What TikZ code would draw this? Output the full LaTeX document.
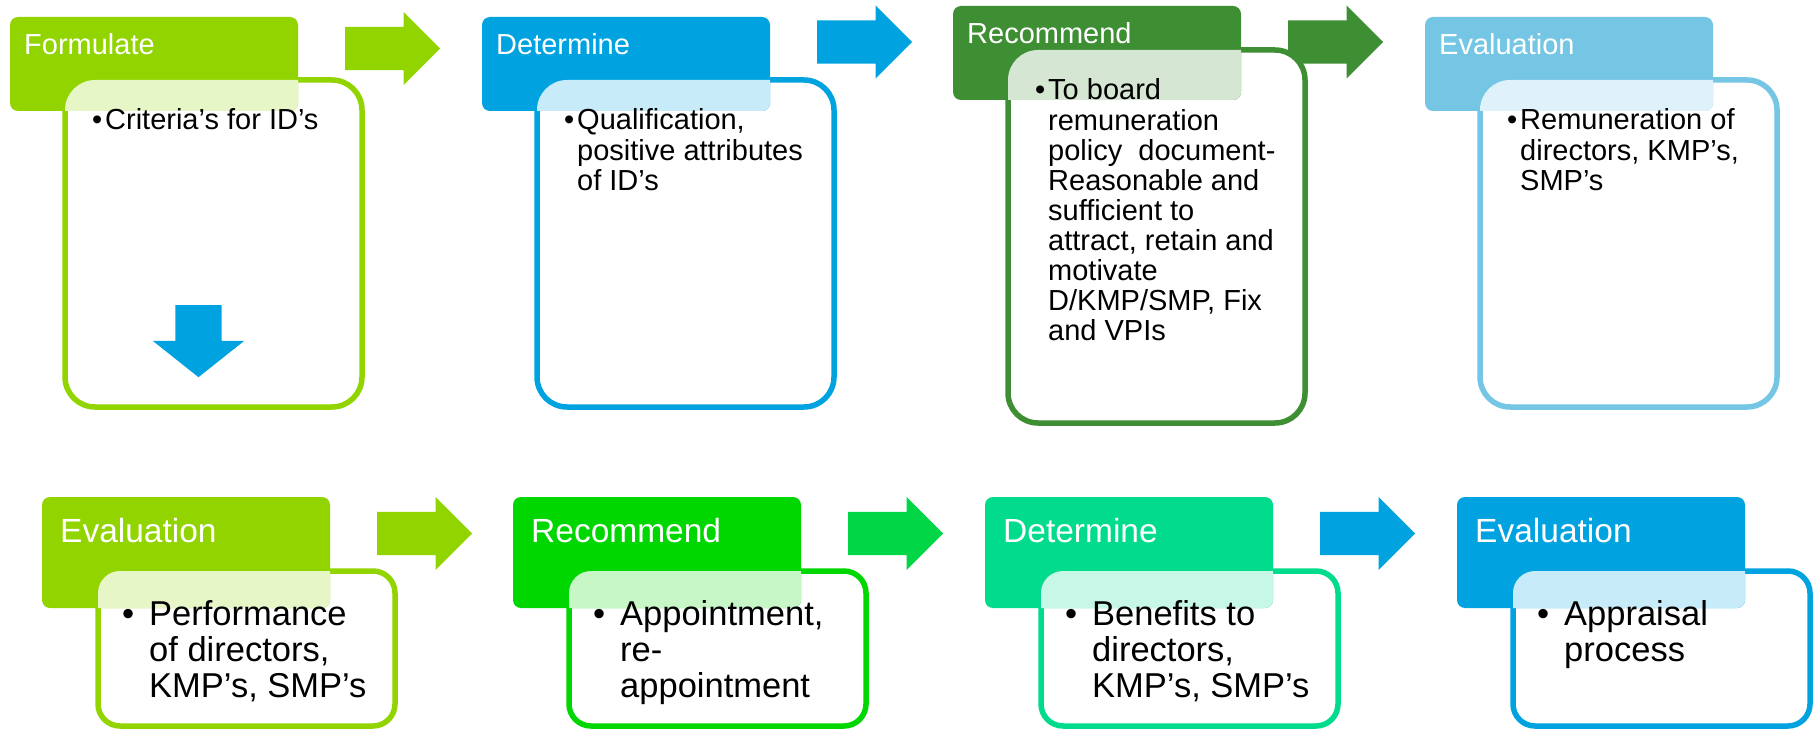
\documentclass[tikz,border=0pt]{standalone}
\usepackage{fontspec}
\setmainfont{Liberation Sans}
\usetikzlibrary{shapes.arrows}

\definecolor{lime}{RGB}{146,212,0}
\definecolor{azure}{RGB}{0,163,224}
\definecolor{forest}{RGB}{62,142,51}
\definecolor{sky}{RGB}{116,198,228}
\definecolor{grass}{RGB}{0,214,0}
\definecolor{spring}{RGB}{0,214,70}
\definecolor{mint}{RGB}{0,219,140}

\newcommand{\toptext}{\fontsize{29}{30}\selectfont}
\newcommand{\lowhead}{\fontsize{33.5}{36}\selectfont}
\newcommand{\lowtext}{\fontsize{34.5}{36}\selectfont}
\newcommand{\itemlines}[2]{\begin{tabular}[t]{@{}l@{}}\llap{\textbullet\hspace{#1}}#2\end{tabular}}

\tikzset{
	headbox/.style={rectangle, rounded corners=8pt, inner sep=0pt, outer sep=0pt, anchor=north west, minimum width=288pt},
	bodybox/.style={rectangle, fill=white, line width=5.5pt, inner sep=0pt, outer sep=0pt, anchor=north west, minimum width=297pt},
	titletext/.style={anchor=base west, inner sep=0pt, text=white},
	itemtext/.style={anchor=base west, inner sep=0pt, text=black},
	flowarrow/.style={single arrow, draw=none, inner sep=0pt, text height=43pt, minimum height=95pt, minimum width=73pt, single arrow head extend=15pt, anchor=tail}
}

\begin{document}
\begin{tikzpicture}[x=1pt, y=-1pt]
	\useasboundingbox (0,0) rectangle (1815,730);
	% arrows between the stages
	\node[flowarrow, fill=lime] (a1) at (345,48.5) {};
	\node[flowarrow, fill=azure] (a2) at (817,42) {};
	\node[flowarrow, fill=forest] (a3) at (1288,42) {};
	\node[flowarrow, fill=lime] (a4) at (377,533.5) {};
	\node[flowarrow, fill=spring] (a5) at (848,533.5) {};
	\node[flowarrow, fill=azure] (a6) at (1320,533.5) {};
	% top row
	\foreach \n/\col/\hx/\hy/\by/\bb/\head/\txt in {
		fo/lime/10/17/80/407/Formulate/{Criteria’s for ID’s},
		de/azure/482/17/80/407/Determine/{Qualification,\\positive attributes\\of ID’s},
		re/forest/953/6/50/423/Recommend/{To board\\remuneration\\policy\ \ document-\\Reasonable and\\sufficient to\\attract, retain and\\motivate\\D/KMP/SMP, Fix\\and VPIs},
		ev/sky/1425/17/80/407/Evaluation/{Remuneration of\\directors, KMP’s,\\SMP’s}%
	}
	{
		\node[bodybox, draw=\col, rounded corners=30pt, minimum height={(\bb-\by)*1pt}] (\n-b) at (\hx+55,\by) {};
		\node[headbox, fill=\col, minimum height=94pt] (\n-h) at (\hx,\hy) {};
		\begin{scope}
			\clip[rounded corners=30pt] (\n-b.north west) rectangle (\n-b.south east);
			\fill[fill=\col!22, rounded corners=8pt] (\n-h.north west) rectangle (\n-h.south east);
		\end{scope}
		\node[titletext, font=\toptext] (\n-t) at ([xshift=14pt, yshift=-38pt]\n-h.north west) {\head};
		\node[itemtext, font=\toptext] (\n-l) at ([xshift=40pt, yshift=-50pt]\n-b.north west) {\itemlines{3pt}{\txt}};
	}
	% bottom row
	\foreach \n/\col/\hx/\head/\txt in {
		pe/lime/42/Evaluation/{Performance\\of directors,\\KMP’s, SMP’s},
		ap/grass/513/Recommend/{Appointment,\\re-\\appointment},
		bf/mint/985/Determine/{Benefits to\\directors,\\KMP’s, SMP’s},
		pr/azure/1457/Evaluation/{Appraisal\\process}%
	}
	{
		\node[bodybox, draw=\col, rounded corners=22pt, minimum height=155pt] (\n-b) at (\hx+56,571) {};
		\node[headbox, fill=\col, minimum height=111pt] (\n-h) at (\hx,497) {};
		\begin{scope}
			\clip[rounded corners=22pt] (\n-b.north west) rectangle (\n-b.south east);
			\fill[fill=\col!22, rounded corners=8pt] (\n-h.north west) rectangle (\n-h.south east);
		\end{scope}
		\node[titletext, font=\lowhead] (\n-t) at ([xshift=18pt, yshift=-45pt]\n-h.north west) {\head};
		\node[itemtext, font=\lowtext] (\n-l) at ([xshift=51pt, yshift=-54pt]\n-b.north west) {\itemlines{15pt}{\txt}};
	}
	% arrow inside the first stage
	\node[flowarrow, fill=azure, rotate=-90, text height=46pt, minimum height=72pt, minimum width=91pt, single arrow head extend=22.5pt, single arrow tip angle=103] (dn) at (198.5,305) {};
\end{tikzpicture}
\end{document}
